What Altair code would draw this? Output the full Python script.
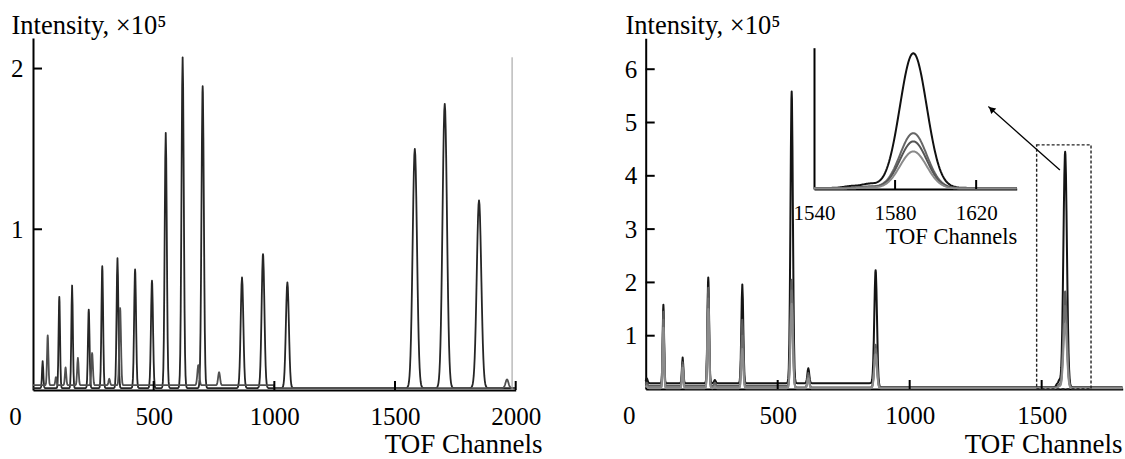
import altair as alt
import numpy as np
import pandas as pd

FONT = "Liberation Serif"
W, H = 1125, 459

# ---------------- left spectrum: peaks ----------------
L_pos = [40, 61, 95, 109, 135, 162, 186, 231, 245, 287, 316, 350, 361, 423, 493,
         550, 620, 685, 703, 771, 866, 953, 1054, 1582, 1706, 1848, 1964]
L_height = [0.18, 0.34, 0.08, 0.58, 0.14, 0.65, 0.20, 0.50, 0.23, 0.77, 0.07, 0.82, 0.51, 0.75, 0.68,
            1.60, 2.07, 0.155, 1.89, 0.11, 0.70, 0.845, 0.67, 1.50, 1.78, 1.18, 0.066]
L_sigma = [2.6, 2.8, 2.6, 3.0, 2.8, 3.1, 3.0, 3.3, 3.2, 3.5, 3.0, 3.7, 3.5, 4.0, 4.2,
           4.4, 4.7, 4.0, 4.9, 4.0, 5.5, 5.8, 6.2, 9.0, 9.2, 9.4, 6.0]
L_trace = ["A", "B", "B", "A", "B", "A", "B", "A", "B", "A", "B", "A", "B", "A", "A",
           "A", "A", "B", "A", "B", "A", "A", "A", "A", "A", "A", "B"]
L_traces = ["A", "B"]
L_colors = ["#262626", "#505050"]
L_baseline = {"A": [(0, 2001, 0.012)], "B": [(0, 1000, 0.03), (1000, 2001, 0.012)]}
L_xticks = [0, 500, 1000, 1500, 2000]
L_yticks = [1, 2]
L_marker = [1985, 2.07]          # thin grey vertical line near 2000

# ---------------- right spectrum ----------------
R_pos = [4, 67, 140, 237, 262, 366, 553, 616, 871, 1558, 1567, 1589]
R_sigma = [3.0, 2.6, 2.6, 3.2, 3.0, 3.6, 4.5, 3.5, 5.0, 3.5, 4.0, 6.6]
R_traces = ["a", "b", "c", "d"]
R_colors = ["#141414", "#5c5c5c", "#6f6f6f", "#8c8c8c"]
R_heights = {
    "a": [0.20, 1.58, 0.59, 2.09, 0.17, 1.96, 5.58, 0.39, 2.23, 0.09, 0.16, 4.45],
    "b": [0.12, 1.45, 0.50, 1.90, 0.12, 1.30, 2.05, 0.30, 0.83, 0.04, 0.08, 1.83],
    "c": [0.08, 1.30, 0.45, 1.70, 0.08, 1.00, 1.85, 0.25, 0.75, 0.03, 0.06, 1.56],
    "d": [0.05, 1.15, 0.40, 1.50, 0.05, 0.75, 1.60, 0.20, 0.65, 0.02, 0.05, 1.23],
}
R_baseline = {
    "a": [(0, 880, 0.11), (880, 1808, 0.035)],
    "b": [(0, 560, 0.06), (560, 1808, 0.03)],
    "c": [(0, 1808, 0.025)],
    "d": [(0, 1808, 0.015)],
}
R_xticks = [0, 500, 1000, 1500]
R_yticks = [1, 2, 3, 4, 5, 6]
R_box = [1481, 1687, 0, 4.58]              # dotted zoom frame x, x2, y, y2
R_arrow = [1569, 4.11, 1298, 5.30]         # start x, y, tip x, y

# ---------------- inset ----------------
I_xticks = [1540, 1580, 1620]
I_colors = ["#111111", "#666666", "#555555", "#8a8a8a"]

# ---------------- scales (domain + pixel range) ----------------
L_XDOM, L_XRNG = [0, 2000], [33, 515.7]
L_YDOM, L_YRNG = [0, 2.19], [390, 38]
R_XDOM, R_XRNG = [0, 1807], [645.7, 1122.7]
R_YDOM, R_YRNG = [0, 6.58], [389, 38.3]
I_XDOM, I_XRNG = [1540, 1640], [814, 1016.7]
I_YDOM, I_YRNG = [0, 4.63], [189, 47.7]

LABEL_SIZE = 25
TITLE_SIZE = 27
YTITLE_SIZE = 26.5


def ppu(dom, rng):
    return abs(rng[1] - rng[0]) / (dom[1] - dom[0])


def base_of(x, segs):
    b = np.zeros_like(x, dtype=float)
    for a, e, v in segs:
        b[(x >= a) & (x < e)] = v
    return b


def spectrum(x, pos, hts, sig, segs):
    b = base_of(x, segs)
    y = b.copy()
    for p, h, s in zip(pos, hts, sig):
        amp = max(h - base_of(np.array([float(p)]), segs)[0], 0.0)
        y += amp * np.exp(-((x - p) ** 2) / (2 * s * s))
    return y


# left traces
xl = np.unique(np.concatenate([np.arange(0, 2000.01, 2.0), np.array(L_pos, float)]))
rows = []
for t in L_traces:
    idx = [i for i, tr in enumerate(L_trace) if tr == t]
    y = spectrum(xl, [L_pos[i] for i in idx], [L_height[i] for i in idx], [L_sigma[i] for i in idx], L_baseline[t])
    rows.append(pd.DataFrame({"x": xl, "y": np.round(y, 4), "trace": t}))
left_df = pd.concat(rows, ignore_index=True)

# right traces (and the zoomed inset of the same traces)
xr = np.unique(np.concatenate([np.arange(0, 1807.01, 2.0), np.array(R_pos, float)]))
xi = np.unique(np.concatenate([np.arange(1540, 1640.01, 0.5), np.array([1589.0])]))
rows, irows = [], []
for t in R_traces:
    y = spectrum(xr, R_pos, R_heights[t], R_sigma, R_baseline[t])
    rows.append(pd.DataFrame({"x": xr, "y": np.round(y, 4), "trace": t}))
    yi = spectrum(xi, R_pos, R_heights[t], R_sigma, R_baseline[t])
    irows.append(pd.DataFrame({"x": xi, "y": np.round(yi, 4), "trace": t}))
right_df = pd.concat(rows, ignore_index=True)
inset_df = pd.concat(irows, ignore_index=True)

TICK_PX = 9


def xaxis(offset, values, zero_shift, title, tx, ty, lsize, tsize, lpad):
    return alt.Axis(
        orient="bottom", offset=offset, values=values, format="d", ticks=False, grid=False,
        domainColor="black", domainWidth=2,
        labelFont=FONT, labelFontSize=lsize, labelColor="black", labelPadding=lpad,
        labelFlush=False, labelOverlap=False,
        labelOffset={"condition": {"test": "datum.value === 0", "value": zero_shift}, "value": 0},
        title=title, titleFont=FONT, titleFontSize=tsize, titleFontWeight="normal", titleColor="black",
        titleX=tx, titleY=ty, titleAlign="right", titleBaseline="alphabetic",
    )


def yaxis(offset, values, title, tx, ty, lpad, labels=True):
    kw = dict(
        orient="left", offset=offset, ticks=False, grid=False,
        domainColor="black", domainWidth=2, title=title,
    )
    if labels:
        kw.update(values=values, format="d", labelFont=FONT, labelFontSize=LABEL_SIZE, labelColor="black",
                  labelPadding=lpad, labelOverlap=False, labelFlush=False,
                  titleFont=FONT, titleFontSize=YTITLE_SIZE, titleFontWeight="normal", titleColor="black",
                  titleAngle=0, titleAlign="left", titleBaseline="alphabetic", titleX=tx, titleY=ty)
    else:
        kw.update(labels=False)
    return alt.Axis(**kw)


def make_panel(df, traces, colors, xdom, xrng, ydom, yrng, xax, yax, xticks, yticks, width, extra=()):
    xs = alt.Scale(domain=xdom, range=xrng, nice=False, zero=False)
    ys = alt.Scale(domain=ydom, range=yrng, nice=False, zero=False)
    X = lambda f: alt.X(f, type="quantitative", scale=xs, axis=xax)
    Y = lambda f: alt.Y(f, type="quantitative", scale=ys, axis=yax)
    lines = alt.Chart(df).mark_line(strokeWidth=width, strokeJoin="round").encode(
        x=X("x"), y=Y("y"),
        color=alt.Color("trace:N", scale=alt.Scale(domain=traces, range=colors), legend=None),
    )
    layers = [lines]
    xlen = TICK_PX / ppu(ydom, yrng)
    ylen = TICK_PX / ppu(xdom, xrng)
    if xticks:
        tdf = pd.DataFrame({"x": xticks, "y": [ydom[0]] * len(xticks), "y2": [ydom[0] + xlen] * len(xticks)})
        layers.append(alt.Chart(tdf).mark_rule(color="black", strokeWidth=2).encode(
            x=X("x"), y=Y("y"), y2="y2"))
    if yticks:
        tdf = pd.DataFrame({"y": yticks, "x": [xdom[0]] * len(yticks), "x2": [xdom[0] + ylen] * len(yticks)})
        layers.append(alt.Chart(tdf).mark_rule(color="black", strokeWidth=2).encode(
            x=X("x"), x2="x2", y=Y("y")))
    for ch in extra:
        layers.append(ch(X, Y))
    return alt.layer(*layers)


# left panel
def left_marker(X, Y):
    d = pd.DataFrame({"x": [L_marker[0]], "y": [0.0], "y2": [L_marker[1]]})
    return alt.Chart(d).mark_rule(color="#9a9a9a", strokeWidth=1).encode(x=X("x"), y=Y("y"), y2="y2")


left = make_panel(
    left_df, L_traces, L_colors, L_XDOM, L_XRNG, L_YDOM, L_YRNG,
    xaxis(L_YRNG[0] - H, L_xticks, -18, "TOF Channels", 542, 62, LABEL_SIZE, TITLE_SIZE, 14),
    yaxis(-L_XRNG[0], L_yticks, "Intensity, ×10⁵", 11 - L_XRNG[0], 33, 10),
    L_xticks[1:], L_yticks, 1.8, extra=[left_marker],
)


# right panel extras
def right_box(X, Y):
    d = pd.DataFrame({"x": [R_box[0]], "x2": [R_box[1]], "y": [R_box[2]], "y2": [R_box[3]]})
    return alt.Chart(d).mark_rect(fillOpacity=0, stroke="#222222", strokeWidth=1.4, strokeDash=[3, 2]).encode(
        x=X("x"), x2="x2", y=Y("y"), y2="y2")


def right_arrow(X, Y):
    d = pd.DataFrame({"x": [R_arrow[0]], "y": [R_arrow[1]], "x2": [R_arrow[2]], "y2": [R_arrow[3]]})
    return alt.Chart(d).mark_rule(color="black", strokeWidth=1.3).encode(x=X("x"), y=Y("y"), x2="x2", y2="y2")


def right_head(X, Y):
    kx, ky = ppu(R_XDOM, R_XRNG), ppu(R_YDOM, R_YRNG)
    dxp = (R_arrow[2] - R_arrow[0]) * kx
    dyp = -(R_arrow[3] - R_arrow[1]) * ky
    n = np.hypot(dxp, dyp)
    ux, uy = dxp / n, dyp / n
    back = 4.0
    hx = R_arrow[2] - back * ux / kx
    hy = R_arrow[3] + back * uy / ky
    ang = (np.degrees(np.arctan2(ux, -uy)) + 360) % 360
    d = pd.DataFrame({"x": [hx], "y": [hy]})
    return alt.Chart(d).mark_point(shape="triangle-up", filled=True, size=55, color="black",
                                   opacity=1, angle=float(ang)).encode(x=X("x"), y=Y("y"))


right = make_panel(
    right_df, R_traces, R_colors, R_XDOM, R_XRNG, R_YDOM, R_YRNG,
    xaxis(R_YRNG[0] - H, R_xticks, -17, "TOF Channels", 1122, 63, LABEL_SIZE, TITLE_SIZE, 14),
    yaxis(-R_XRNG[0], R_yticks, "Intensity, ×10⁵", 625 - R_XRNG[0], 33, 9),
    R_xticks[1:], R_yticks, 2.0, extra=[right_box, right_arrow, right_head],
)

# inset
inset = make_panel(
    inset_df, R_traces, I_colors, I_XDOM, I_XRNG, I_YDOM, I_YRNG,
    xaxis(I_YRNG[0] - H, I_xticks, 0, "TOF Channels", 1016.7, 54, 21, 22.5, 13),
    yaxis(-I_XRNG[0], [], "", 0, 0, 0, labels=False),
    I_xticks[1:], [], 2.0,
)

chart = (
    alt.layer(left, right, inset)
    .resolve_scale(x="independent", y="independent", color="independent")
    .properties(width=W, height=H, autosize=alt.AutoSizeParams(type="none"), padding=0, background="white")
    .configure_view(stroke="transparent")
)

chart.save("out.html", embed_options={"renderer": "svg", "actions": False})
